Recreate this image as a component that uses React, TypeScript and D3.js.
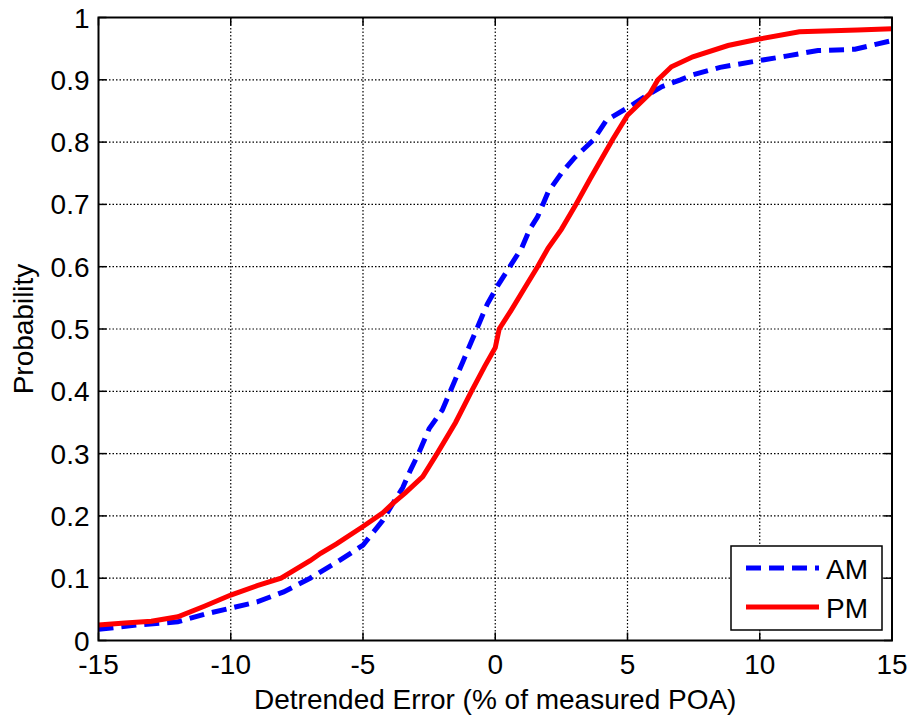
import React from "react";
import * as d3 from "d3";

const amX = [-15, -13.5, -12, -11, -10, -9, -8, -7, -5.87, -5, -4.74, -4.25, -3.87, -3.5, -3.2, -2.9, -2.5, -2, -1.7, -1.2, -0.7, -0.3, 0.1, 0.55, 1.0, 1.3, 1.6, 1.8, 2.0, 2.5, 3.0, 3.7, 4.2, 5.0, 5.85, 6.3, 7.0, 7.47, 8.5, 10, 11, 12.2, 13.6, 15];
const amY = [0.018, 0.025, 0.03, 0.042, 0.052, 0.062, 0.078, 0.1, 0.129, 0.153, 0.167, 0.193, 0.22, 0.245, 0.274, 0.3, 0.34, 0.37, 0.4, 0.45, 0.5, 0.54, 0.57, 0.6, 0.63, 0.66, 0.68, 0.7, 0.72, 0.75, 0.775, 0.803, 0.835, 0.855, 0.878, 0.889, 0.9, 0.908, 0.92, 0.931, 0.938, 0.947, 0.949, 0.963];

const pmX = [-15, -14, -13, -12, -11, -10, -9, -8.1, -7, -6.6, -6, -5, -4.25, -3.87, -3.4, -2.74, -2.2, -1.5, -0.9, -0.4, 0, 0.15, 0.6, 1.1, 1.6, 2.0, 2.5, 3.05, 3.6, 4.07, 4.45, 5.0, 5.85, 6.15, 6.66, 7.47, 8.8, 9.93, 11.5, 13.7, 15];
const pmY = [0.025, 0.028, 0.031, 0.038, 0.055, 0.073, 0.088, 0.1, 0.128, 0.14, 0.155, 0.183, 0.205, 0.22, 0.237, 0.263, 0.3, 0.35, 0.4, 0.44, 0.47, 0.5, 0.53, 0.565, 0.6, 0.63, 0.66, 0.7, 0.742, 0.777, 0.805, 0.843, 0.878, 0.9, 0.921, 0.937, 0.955, 0.965, 0.977, 0.98, 0.982];

const xTicks = [-15, -10, -5, 0, 5, 10, 15];
const yTicks = [0, 0.1, 0.2, 0.3, 0.4, 0.5, 0.6, 0.7, 0.8, 0.9, 1];

const W = 914;
const H = 719;
const left = 98.5, right = 892, top = 17.5, bottom = 640.5;
const font = "Arial, 'Liberation Sans', sans-serif";
const fs = 28;

export default function App() {
  const x = d3.scaleLinear().domain([-15, 15]).range([left, right]);
  const y = d3.scaleLinear().domain([0, 1]).range([bottom, top]);
  const line = d3.line<[number, number]>().x(d => x(d[0])).y(d => y(d[1]));
  const am = amX.map((v, i) => [v, amY[i]] as [number, number]);
  const pm = pmX.map((v, i) => [v, pmY[i]] as [number, number]);
  const tl = 8;

  return (
    <svg width={W} height={H} style={{ position: "absolute", left: 0, top: 0, background: "#fff" }} fontFamily={font}>
      <rect x={0} y={0} width={W} height={H} fill="#fff" />
      {/* grid */}
      {xTicks.slice(1, -1).map(t => (
        <line key={"gx" + t} x1={x(t)} x2={x(t)} y1={top} y2={bottom} stroke="#000" strokeWidth={1.2} strokeDasharray="1.5 2" />
      ))}
      {yTicks.slice(1, -1).map(t => (
        <line key={"gy" + t} x1={left} x2={right} y1={y(t)} y2={y(t)} stroke="#000" strokeWidth={1.2} strokeDasharray="1.5 2" />
      ))}
      {/* ticks on all sides */}
      {xTicks.map(t => (
        <g key={"tx" + t}>
          <line x1={x(t)} x2={x(t)} y1={bottom} y2={bottom - tl} stroke="#000" strokeWidth={1.5} />
          <line x1={x(t)} x2={x(t)} y1={top} y2={top + tl} stroke="#000" strokeWidth={1.5} />
          <text x={x(t)} y={bottom + 33} fontSize={fs} textAnchor="middle">{t}</text>
        </g>
      ))}
      {yTicks.map(t => (
        <g key={"ty" + t}>
          <line x1={left} x2={left + tl} y1={y(t)} y2={y(t)} stroke="#000" strokeWidth={1.5} />
          <line x1={right} x2={right - tl} y1={y(t)} y2={y(t)} stroke="#000" strokeWidth={1.5} />
          <text x={left - 9} y={y(t) + 10} fontSize={fs} textAnchor="end">{t}</text>
        </g>
      ))}
      {/* series */}
      <path d={line(am) ?? ""} fill="none" stroke="#0000ff" strokeWidth={5} strokeDasharray="15 8" />
      <path d={line(pm) ?? ""} fill="none" stroke="#ff0000" strokeWidth={5} />
      {/* axes box */}
      <rect x={left} y={top} width={right - left} height={bottom - top} fill="none" stroke="#000" strokeWidth={2} />
      {/* legend */}
      <rect x={731} y={546} width={151} height={84} fill="#fff" stroke="#000" strokeWidth={1.5} />
      <line x1={746} x2={819} y1={568} y2={568} stroke="#0000ff" strokeWidth={5} strokeDasharray="15 8" />
      <text x={826} y={579} fontSize={fs}>AM</text>
      <line x1={746} x2={819} y1={607} y2={607} stroke="#ff0000" strokeWidth={5} />
      <text x={826} y={618} fontSize={fs}>PM</text>
      {/* axis labels */}
      <text x={(left + right) / 2} y={709} fontSize={fs} textAnchor="middle">Detrended Error (% of measured POA)</text>
      <text transform={`translate(33, ${(top + bottom) / 2}) rotate(-90)`} fontSize={fs} textAnchor="middle">Probability</text>
    </svg>
  );
}
